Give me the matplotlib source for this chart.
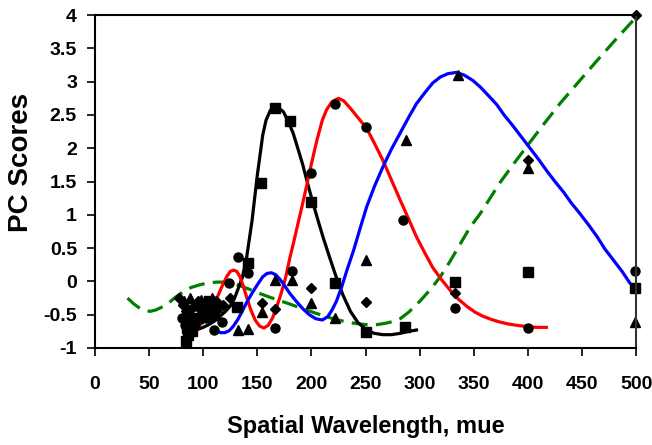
import matplotlib.pyplot as plt

plt.rcParams['font.family'] = ['Liberation Sans', 'DejaVu Sans']
plt.rcParams['font.weight'] = 'bold'

# marker data (PC scores per wavelength)
sq_x = [84, 86, 85, 88, 90, 95, 100, 105, 110, 131, 141, 153, 166, 180, 200, 222, 250, 286, 333, 400, 499]
sq_y = [-0.9, -0.8, -0.7, -0.6, -0.75, -0.55, -0.45, -0.3, -0.5, -0.38, 0.28, 1.48, 2.6, 2.41, 1.19, -0.02, -0.76, -0.68, -0.01, 0.14, -0.1]

ci_x = [80, 83, 87, 92, 97, 103, 110, 117, 124, 132, 141, 166, 182, 200, 222, 250, 285, 333, 400, 499]
ci_y = [-0.55, -0.65, -0.5, -0.65, -0.4, -0.55, -0.73, -0.61, -0.02, 0.36, 0.13, -0.7, 0.16, 1.63, 2.66, 2.32, 0.92, -0.4, -0.7, 0.16]

tr_x = [82, 88, 93, 98, 103, 108, 113, 132, 141, 154, 166, 182, 200, 222, 250, 287, 335, 400, 499]
tr_y = [-0.3, -0.25, -0.35, -0.28, -0.3, -0.25, -0.38, -0.73, -0.71, -0.46, 0.02, 0.02, -0.33, -0.55, 0.32, 2.12, 3.1, 1.7, -0.61]

di_x = [78, 81, 84, 90, 95, 100, 106, 112, 118, 125, 154, 166, 200, 250, 333, 400, 500]
di_y = [-0.25, -0.35, -0.45, -0.4, -0.3, -0.35, -0.4, -0.3, -0.35, -0.25, -0.33, -0.42, -0.1, -0.31, -0.18, 1.82, 4.0]

# fitted curves
blk_x = [95, 100, 105, 110, 115, 120, 125, 129, 132, 136, 140, 145, 150, 155, 158, 162, 166, 170, 174, 178,
         183, 187, 192, 196, 201, 206, 211, 217, 223, 229, 236, 243, 251, 258, 266, 274, 282, 290, 297]
blk_y = [-0.72, -0.69, -0.65, -0.6, -0.53, -0.46, -0.37, -0.25, -0.12, 0.05, 0.35, 0.9, 1.6, 2.2, 2.42, 2.57, 2.63, 2.6, 2.55, 2.42,
         2.23, 2.02, 1.75, 1.5, 1.2, 0.92, 0.65, 0.35, 0.06, -0.2, -0.45, -0.62, -0.73, -0.78, -0.8, -0.8, -0.78, -0.75, -0.73]

red_x = [94, 98, 102, 106, 110, 114, 118, 122, 125, 128, 131, 134, 137, 140, 144, 148, 152, 156, 160, 164, 168, 172, 176, 180,
         184, 188, 192, 196, 200, 205, 210, 214, 219, 225, 230, 236, 243, 251, 258, 266, 274, 282, 290, 297, 305, 312, 320,
         328, 336, 344, 351, 358, 366, 374, 382, 390, 400, 408, 417]
red_y = [-0.68, -0.64, -0.57, -0.47, -0.35, -0.2, -0.05, 0.08, 0.15, 0.17, 0.15, 0.07, -0.07, -0.23, -0.43, -0.58, -0.67, -0.7, -0.66, -0.55, -0.38, -0.18, 0.05, 0.35,
         0.62, 0.9, 1.18, 1.47, 1.77, 2.12, 2.42, 2.58, 2.7, 2.75, 2.71, 2.6, 2.46, 2.3, 2.08, 1.82, 1.52, 1.22, 0.93, 0.67, 0.42, 0.21, 0.03,
         -0.13, -0.27, -0.38, -0.46, -0.52, -0.57, -0.61, -0.64, -0.66, -0.68, -0.69, -0.69]

blu_x = [109, 112, 116, 120, 124, 128, 132, 136, 140, 145, 150, 155, 159, 163, 167, 171, 175, 180, 186, 192, 198, 204, 210,
         215, 219, 223, 228, 233, 239, 245, 251, 258, 266, 274, 282, 290, 297, 305, 312, 319, 326, 334, 341, 349, 356, 363,
         371, 378, 386, 394, 402, 410, 417, 425, 433, 440, 448, 456, 464, 471, 479, 487, 494]
blu_y = [-0.7, -0.74, -0.77, -0.77, -0.74, -0.67, -0.57, -0.45, -0.32, -0.18, -0.05, 0.07, 0.12, 0.13, 0.1, 0.03, -0.06, -0.18, -0.3, -0.41, -0.5, -0.56, -0.58,
         -0.53, -0.43, -0.3, -0.08, 0.18, 0.47, 0.8, 1.12, 1.42, 1.72, 1.99, 2.23, 2.47, 2.67, 2.84, 2.98, 3.07, 3.12, 3.14, 3.1, 3.02, 2.92, 2.8,
         2.66, 2.5, 2.34, 2.17, 2.0, 1.83, 1.67, 1.5, 1.34, 1.18, 1.02, 0.85, 0.67, 0.49, 0.32, 0.15, -0.02]

grn_x = [30, 36, 42, 47, 51, 56, 60, 65, 69, 75, 81, 89, 97, 105, 113, 120, 128, 135, 143, 152, 162, 171, 180, 190, 199,
         210, 220, 230, 240, 251, 260, 268, 276, 282, 290, 300, 310, 319, 328, 337, 346, 356, 365, 374, 387, 400, 415,
         430, 447, 464, 482, 500]
grn_y = [-0.25, -0.34, -0.41, -0.44, -0.45, -0.43, -0.4, -0.36, -0.31, -0.23, -0.16, -0.09, -0.05, -0.02, -0.01, -0.01, -0.03, -0.07, -0.12, -0.18, -0.24, -0.29, -0.34, -0.4, -0.45,
         -0.51, -0.56, -0.6, -0.63, -0.65, -0.65, -0.63, -0.6, -0.56, -0.46, -0.3, -0.12, 0.07, 0.3, 0.55, 0.8, 1.02, 1.25, 1.48, 1.77, 2.05, 2.37,
         2.68, 3.0, 3.32, 3.65, 3.97]

fig = plt.figure(figsize=(6.52, 4.45), dpi=100)
ax = fig.add_axes([0.1457, 0.218, 0.83, 0.748])

ax.plot(grn_x, grn_y, color='green', lw=2.3, dashes=(5, 2.6))
ax.plot(blk_x, blk_y, color='black', lw=2.3)
ax.plot(red_x, red_y, color='red', lw=2.3)
ax.plot(blu_x, blu_y, color='blue', lw=2.3)

ax.plot(sq_x, sq_y, 's', color='black', ms=6.5, clip_on=False)
ax.plot(ci_x, ci_y, 'o', color='black', ms=6.5, clip_on=False)
ax.plot(tr_x, tr_y, '^', color='black', ms=6.5, clip_on=False)
ax.plot(di_x, di_y, 'D', color='black', ms=5.5, clip_on=False)

ax.set_xlim(0, 500)
ax.set_ylim(-1, 4)
ax.set_xticks(range(0, 501, 50))
ax.set_yticks([-1, -0.5, 0, 0.5, 1, 1.5, 2, 2.5, 3, 3.5, 4])
ax.set_yticklabels(['-1', '-0.5', '0', '0.5', '1', '1.5', '2', '2.5', '3', '3.5', '4'])
ax.tick_params(direction='out', length=6, width=1.2, labelsize=14)
ax.tick_params(axis='x', pad=14)
ax.tick_params(axis='y', pad=7)
for s in ax.spines.values():
    s.set_linewidth(1.5)
ax.spines['right'].set_color('#333333')

ax.set_xlabel('Spatial Wavelength, mue', fontsize=17, fontweight='bold', labelpad=16)
ax.set_ylabel('PC Scores', fontsize=20, fontweight='bold')
ax.yaxis.set_label_coords(-0.112, 0.556)

fig.savefig('out.png', dpi=100)
